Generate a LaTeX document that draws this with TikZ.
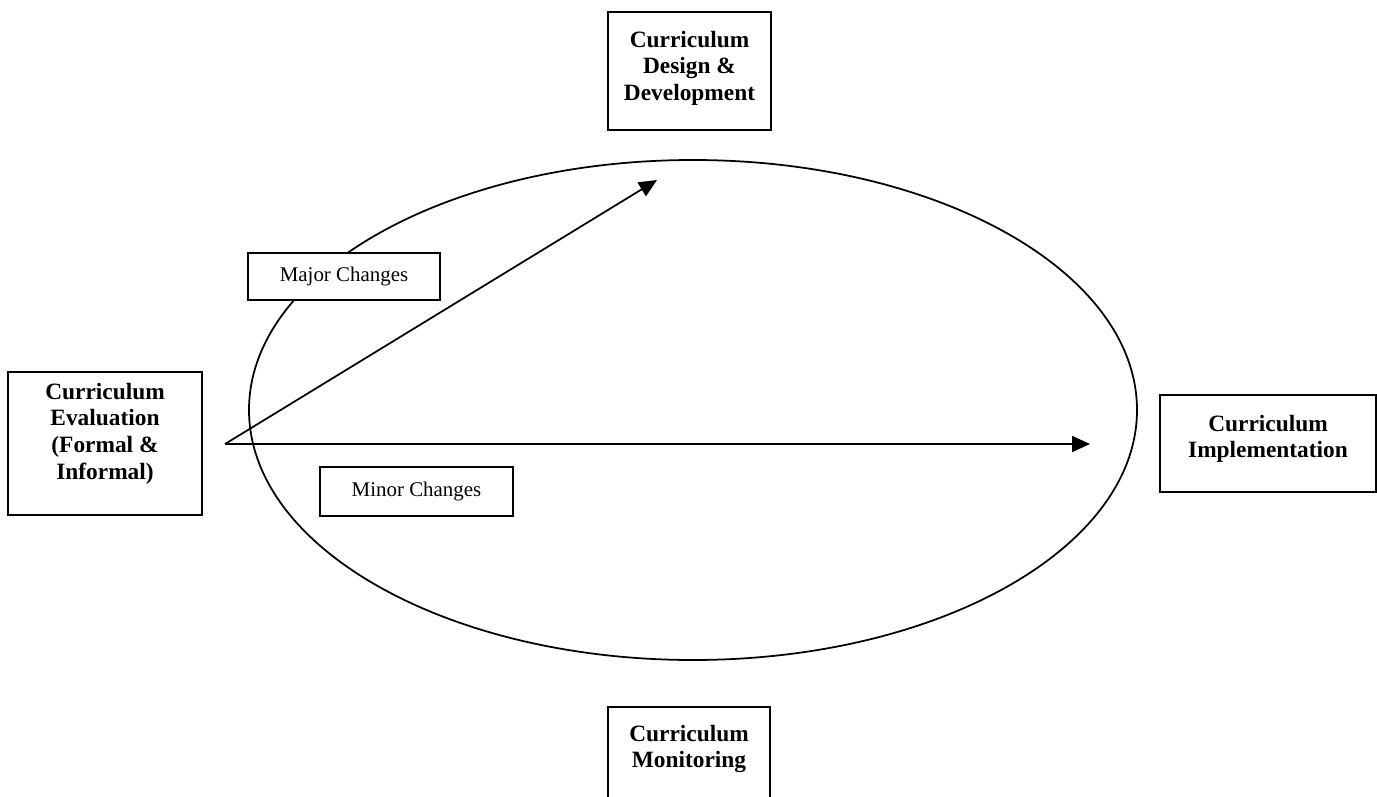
\documentclass[tikz,border=0pt]{standalone}
\usepackage{fontspec}
\setmainfont{Liberation Serif}
\usetikzlibrary{arrows.meta}
\begin{document}
\begin{tikzpicture}
    \tikzstyle{stage}=[rectangle,draw,line width=1pt,fill=white,align=center,font=\bfseries\fontsize{13.3}{15.2}\selectfont]
    \tikzstyle{change}=[rectangle,draw,line width=0.9pt,fill=white,font=\fontsize{11.9}{14}\selectfont]
    \tikzset{edge/.style = {-{Triangle[length=0.36cm,width=0.32cm]},line width=1pt}}
    \useasboundingbox (0,0) rectangle (27.54,-15.94);
    \clip (0,0) rectangle (27.54,-15.94);
    \draw[line width=1pt] (13.86,-8.2) ellipse (8.88cm and 5cm);
    \coordinate (start) at (4.5,-8.88);
    \coordinate (tipmajor) at (13.14,-3.6);
    \coordinate (tipminor) at (21.8,-8.88);
    \draw[edge] (start) -- (tipmajor);
    \draw[edge] (start) -- (tipminor);
    \node[stage,minimum width=3.26cm,minimum height=2.36cm,text depth=6pt] (design) at (13.79,-1.42) {Curriculum\\Design \&\\Development};
    \node[stage,minimum width=3.88cm,minimum height=2.86cm,text depth=14pt] (eval) at (2.1,-8.87) {Curriculum\\Evaluation\\(Formal \&\\Informal)};
    \node[stage,minimum width=4.32cm,minimum height=1.94cm,text depth=8pt] (impl) at (25.36,-8.87) {Curriculum\\Implementation};
    \node[stage,minimum width=3.24cm,minimum height=2cm,text depth=12pt] (monitor) at (13.78,-15.14) {Curriculum\\Monitoring};
    \node[change,minimum width=3.84cm,minimum height=0.94cm] (major) at (6.88,-5.53) {Major Changes};
    \node[change,minimum width=3.86cm,minimum height=0.98cm] (minor) at (8.33,-9.83) {Minor Changes};
\end{tikzpicture}
\end{document}
